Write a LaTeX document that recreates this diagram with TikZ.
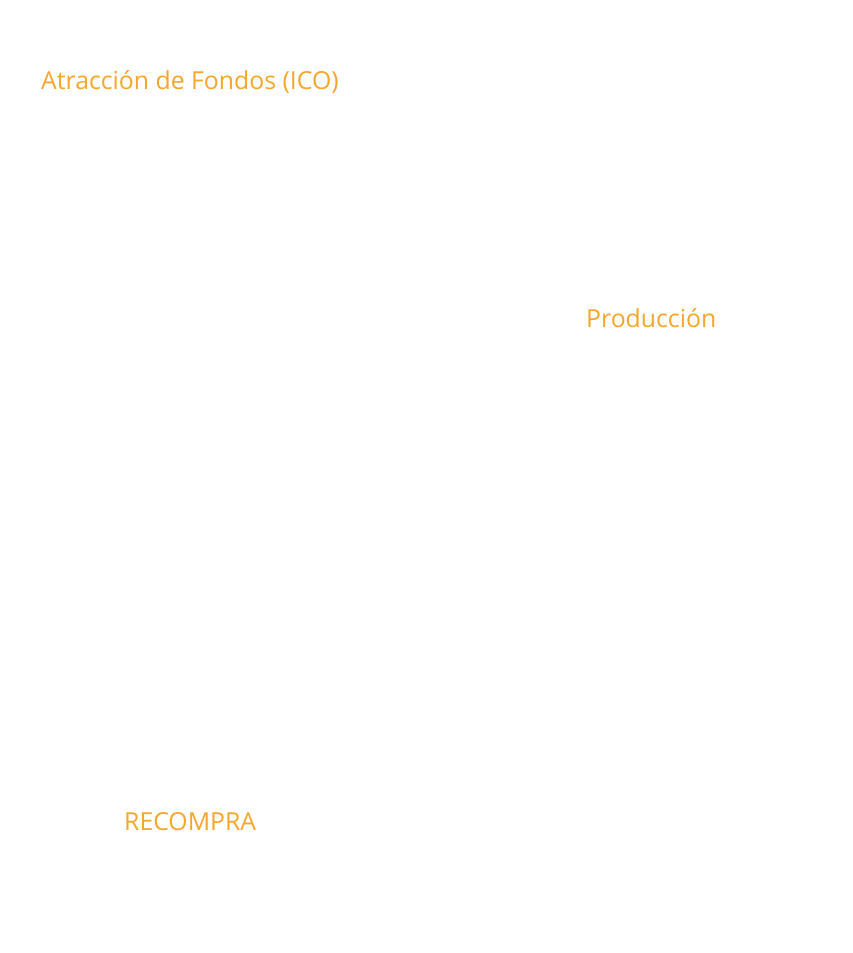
\documentclass[tikz,border=0pt]{standalone}
\usepackage{fontspec}
\setmainfont{Open Sans}
\definecolor{lblorange}{HTML}{F6A62A}
\begin{document}
\begin{tikzpicture}[x=1pt,y=-1pt,
  lbl/.style={anchor=base west,inner sep=0pt,text=lblorange,font=\fontsize{24.8}{29}\selectfont}]
\useasboundingbox[fill=white] (0,0) rectangle (852,953);
\node[lbl] (ico) at (41,89) {Atracción de Fondos (ICO)};
\node[lbl] (prod) at (586,327) {Producción};
\node[lbl] (recompra) at (124,830) {RECOMPRA};
\end{tikzpicture}
\end{document}
